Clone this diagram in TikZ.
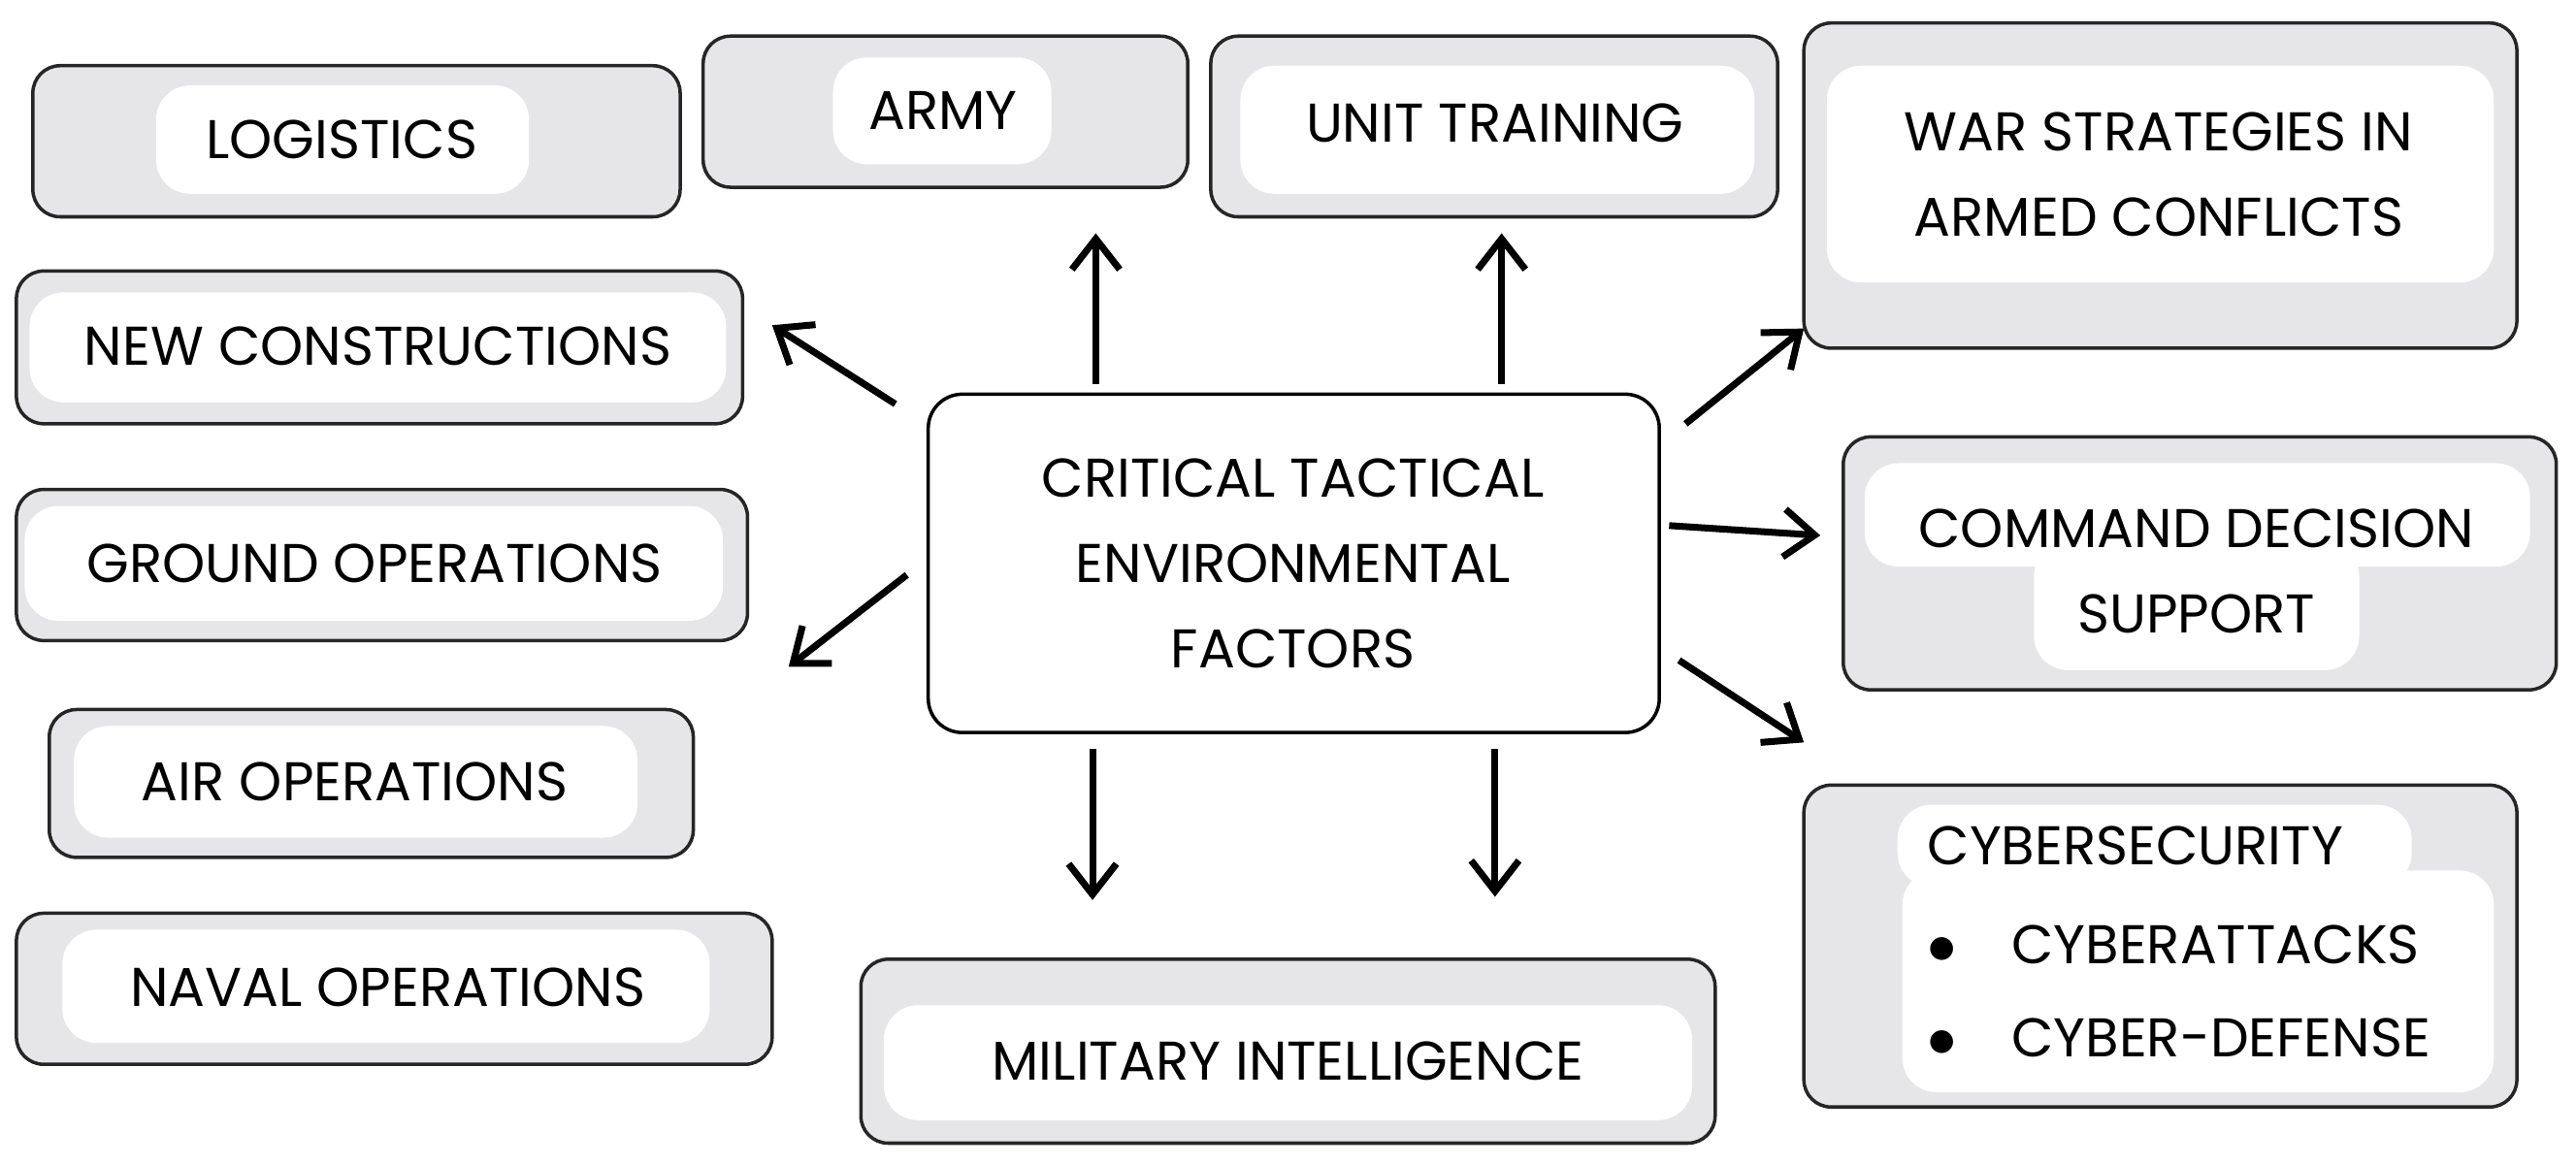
\documentclass[tikz,border=0pt]{standalone}
\usepackage{fontspec}
\setmainfont{Poppins}
\usetikzlibrary{arrows.meta}
\definecolor{boxgray}{HTML}{E6E6E8}
\tikzset{
  outer/.style={draw=black!85, line width=1pt, fill=boxgray, rounded corners=8pt},
  inner/.style={fill=white, rounded corners=10pt},
  lbl/.style={font=\fontsize{16}{25}\selectfont, align=center},
  arr/.style={line width=2pt, -{Straight Barb[length=9pt,width=14pt]}}
}
\begin{document}
\begin{tikzpicture}[x=0.01693cm, y=-0.01693cm]
\useasboundingbox (0,0) rectangle (1568,709);
% boxes
\draw[outer] (20,40) rectangle (414,132);     \fill[inner] (95,52) rectangle (322,118);
\node[lbl] (logi) at (208,85) {LOGISTICS};
\draw[outer] (428,22) rectangle (723,114);    \fill[inner] (507,35) rectangle (640,100);
\node[lbl] (army) at (574,67) {ARMY};
\draw[outer] (737,22) rectangle (1082,132);   \fill[inner] (755,40) rectangle (1068,118);
\node[lbl] (unit) at (910,75) {UNIT TRAINING};
\draw[outer] (1098,14) rectangle (1532,212);  \fill[inner] (1112,40) rectangle (1518,172);
\node[lbl] (war) at (1314,106) {WAR STRATEGIES IN\\ARMED CONFLICTS};
\draw[outer] (10,165) rectangle (452,258);    \fill[inner] (18,178) rectangle (442,245);
\node[lbl] (newc) at (230,211) {NEW CONSTRUCTIONS};
\draw[outer] (10,298) rectangle (455,390);    \fill[inner] (15,308) rectangle (440,378);
\node[lbl] (ground) at (228,343) {GROUND OPERATIONS};
\draw[outer] (30,432) rectangle (422,522);    \fill[inner] (45,442) rectangle (388,510);
\node[lbl] (air) at (216,476) {AIR OPERATIONS};
\draw[outer] (10,556) rectangle (470,648);    \fill[inner] (38,566) rectangle (432,635);
\node[lbl] (naval) at (236,601) {NAVAL OPERATIONS};
\draw[outer] (524,584) rectangle (1044,696);  \fill[inner] (538,612) rectangle (1030,682);
\node[lbl] (mil) at (784,646) {MILITARY INTELLIGENCE};
\draw[outer] (1122,266) rectangle (1556,420); \fill[inner] (1135,282) rectangle (1540,345);
\fill[inner] (1238,330) rectangle (1436,408);
\node[lbl] (cmd) at (1337,348) {COMMAND DECISION\\SUPPORT};
\draw[outer] (1098,478) rectangle (1532,674); \fill[inner] (1155,490) rectangle (1468,540);
\fill[inner] (1158,530) rectangle (1518,665);
\node[lbl, anchor=west] (cyber) at (1166,515) {CYBERSECURITY};
\node[lbl, anchor=west] (cyb1) at (1166,575) {$\bullet$\quad CYBERATTACKS};
\node[lbl, anchor=west] (cyb2) at (1166,632) {$\bullet$\quad CYBER-DEFENSE};
% centre
\draw[line width=1pt, fill=white, rounded corners=10pt] (565,240) rectangle (1010,446);
\node[lbl] (ctef) at (787,343) {CRITICAL TACTICAL\\ENVIRONMENTAL\\FACTORS};
% arrows
\coordinate (a1) at (545,246); \coordinate (b1) at (470,198);
\coordinate (a2) at (667,234); \coordinate (b2) at (667,142);
\coordinate (a3) at (914,234); \coordinate (b3) at (914,142);
\coordinate (a4) at (1026,258); \coordinate (b4) at (1098,200);
\coordinate (a5) at (1016,320); \coordinate (b5) at (1108,326);
\coordinate (a6) at (1022,402); \coordinate (b6) at (1098,452);
\coordinate (a7) at (665,456); \coordinate (b7) at (665,548);
\coordinate (a8) at (910,456); \coordinate (b8) at (910,546);
\coordinate (a9) at (552,350); \coordinate (b9) at (480,406);
\foreach \i in {1,...,9}
  \draw[arr] (a\i) -- (b\i);
\end{tikzpicture}
\end{document}
